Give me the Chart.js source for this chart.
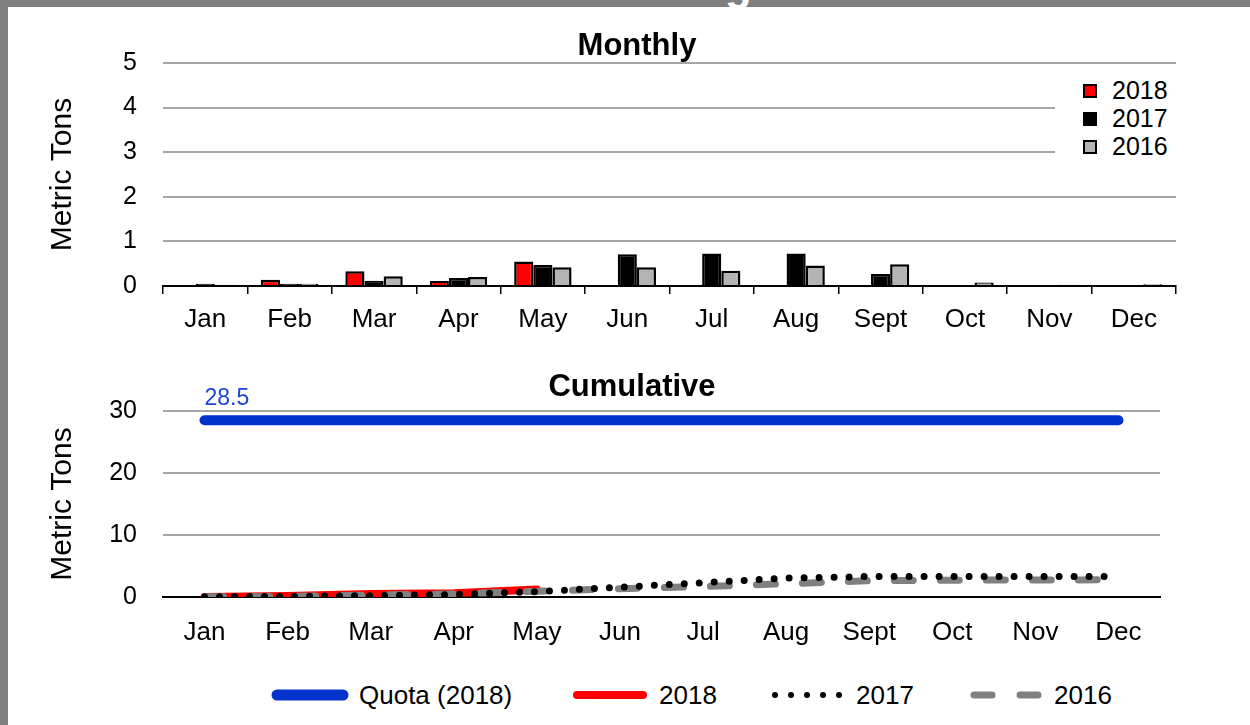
<!DOCTYPE html>
<html>
<head>
<meta charset="utf-8">
<script src="https://cdn.jsdelivr.net/npm/chart.js@4.4.1/dist/chart.umd.min.js"></script>
<style>
  body { margin: 0; width: 1250px; height: 725px; overflow: hidden; position: relative;
         background: #808080; font-family: "Liberation Sans", Arial, sans-serif; }
  #panel { position: absolute; left: 8px; top: 7px; width: 1242px; height: 718px; background: #fff; }
  #topg { position: absolute; left: 725px; top: -37px; font: bold 44px/44px "Liberation Sans", Arial, sans-serif; color: #fff; }
  #monthly { position: absolute; left: 8px; top: 7px; }
  #cumul { position: absolute; left: 8px; top: 345px; }
  #barLegend { position: absolute; left: 1055px; top: 70px; width: 140px; height: 96px; background: #fff; }
  #barLegend div { position: absolute; left: 28px; height: 28px; font-size: 25px; line-height: 28px; color: #000; }
  #barLegend span { display: inline-block; width: 10px; height: 10px; border: 2px solid #000; margin-right: 15px; vertical-align: 1px; }
  #lineLegend { position: absolute; left: 0; top: 670px; }
</style>
</head>
<body>
<div id="panel"></div>
<div id="topg">g</div>
<canvas id="monthly" width="1234" height="340"></canvas>
<canvas id="cumul" width="1234" height="315"></canvas>

<div id="barLegend">
  <div style="top:6px"><span style="background:#ff0000"></span>2018</div>
  <div style="top:34px"><span style="background:#000"></span>2017</div>
  <div style="top:62px"><span style="background:#b4b4b4"></span>2016</div>
</div>

<svg id="lineLegend" width="1250" height="50">
  <line x1="277" y1="25" x2="343" y2="25" stroke="#0033cc" stroke-width="11" stroke-linecap="round"/>
  <text x="359" y="25" font-size="26" dominant-baseline="central" font-family="Liberation Sans, Arial">Quota (2018)</text>
  <line x1="577" y1="25" x2="643" y2="25" stroke="#ff0000" stroke-width="8" stroke-linecap="round"/>
  <text x="659" y="25" font-size="26" dominant-baseline="central" font-family="Liberation Sans, Arial">2018</text>
  <line x1="775" y1="25" x2="841" y2="25" stroke="#000" stroke-width="6" stroke-linecap="round" stroke-dasharray="0 16"/>
  <text x="856" y="25" font-size="26" dominant-baseline="central" font-family="Liberation Sans, Arial">2017</text>
  <line x1="974" y1="25" x2="992" y2="25" stroke="#808080" stroke-width="7" stroke-linecap="round"/>
  <line x1="1020" y1="25" x2="1038" y2="25" stroke="#808080" stroke-width="7" stroke-linecap="round"/>
  <text x="1054" y="25" font-size="26" dominant-baseline="central" font-family="Liberation Sans, Arial">2016</text>
</svg>

<script>
// data
var months = ['Jan', 'Feb', 'Mar', 'Apr', 'May', 'Jun', 'Jul', 'Aug', 'Sept', 'Oct', 'Nov', 'Dec'];

var monthly2018 = [0.02, 0.14, 0.33, 0.11, 0.55, null, null, null, null, null, null, null];
var monthly2017 = [0.05, 0.05, 0.12, 0.18, 0.47, 0.71, 0.73, 0.73, 0.27, null, null, null];
var monthly2016 = [0.03, 0.05, 0.22, 0.20, 0.42, 0.42, 0.34, 0.46, 0.49, 0.08, 0.03, 0.04];

var quota2018 = [28.5, 28.5, 28.5, 28.5, 28.5, 28.5, 28.5, 28.5, 28.5, 28.5, 28.5, 28.5];
var cumul2018 = [0.02, 0.17, 0.50, 0.62, 1.22, null, null, null, null, null, null, null];
var cumul2017 = [0.05, 0.10, 0.22, 0.40, 0.87, 1.58, 2.31, 3.04, 3.31, 3.31, 3.31, 3.31];
var cumul2016 = [0.03, 0.08, 0.30, 0.50, 0.92, 1.34, 1.68, 2.14, 2.63, 2.71, 2.74, 2.78];

var FONT = '"Liberation Sans", Arial, sans-serif';
var gridGray = '#a6a6a6';

// draws the panel title at a fixed spot (chart.js title can't be off-centre)
var panelTitle = {
	id: 'panelTitle',
	afterDraw: function(chart, args, opts) {
		var ctx = chart.ctx;
		ctx.save();
		ctx.font = 'bold 31px ' + FONT;
		ctx.fillStyle = '#000';
		ctx.textAlign = 'center';
		ctx.textBaseline = 'middle';
		ctx.fillText(opts.text, opts.x, opts.y);
		ctx.restore();
	}
};

// value label over the first point of the quota line
var quotaLabel = {
	id: 'quotaLabel',
	afterDatasetsDraw: function(chart) {
		var pt = chart.getDatasetMeta(0).data[0];
		var ctx = chart.ctx;
		ctx.save();
		ctx.font = '23px ' + FONT;
		ctx.fillStyle = '#1f45d6';
		ctx.textAlign = 'left';
		ctx.textBaseline = 'middle';
		ctx.fillText(String(quota2018[0]), pt.x, pt.y - 22);
		ctx.restore();
	}
};

function yAxis(max, step) {
	return {
		min: 0, max: max,
		ticks: { stepSize: step, color: '#000', font: { size: 25, family: FONT }, padding: 26 },
		grid: { color: gridGray, lineWidth: 2, drawTicks: false },
		border: { display: false },
		title: { display: true, text: 'Metric Tons', color: '#000', font: { size: 30, family: FONT }, padding: 0 },
		afterFit: function(s) { s.width = 118; }
	};
}

Chart.defaults.font.family = FONT;

new Chart(document.getElementById('monthly'), {
	type: 'bar',
	data: {
		labels: months,
		datasets: [
			{ label: '2018', data: monthly2018, backgroundColor: '#ff0000' },
			{ label: '2017', data: monthly2017, backgroundColor: '#000000' },
			{ label: '2016', data: monthly2016, backgroundColor: '#b4b4b4' }
		].map(function(d) {
			d.borderColor = '#000';
			d.borderWidth = 2.5;
			d.categoryPercentage = 0.68;
			d.barPercentage = 1.0;
			return d;
		})
	},
	options: {
		responsive: false,
		animation: false,
		devicePixelRatio: 1,
		layout: { padding: { left: 37, right: 66, top: 56, bottom: 0 } },
		plugins: {
			legend: { display: false },
			tooltip: { enabled: false },
			panelTitle: { text: 'Monthly', x: 629, y: 39 }
		},
		scales: {
			x: {
				grid: { display: true, drawOnChartArea: false, drawTicks: true, tickLength: 8, color: '#000', lineWidth: 1.5 },
				border: { display: true, color: '#000', width: 2 },
				ticks: { color: '#000', font: { size: 26, family: FONT }, padding: 10, maxRotation: 0 },
				afterFit: function(s) { s.height = 61; }
			},
			y: yAxis(5, 1)
		}
	},
	plugins: [panelTitle]
});

new Chart(document.getElementById('cumul'), {
	type: 'line',
	data: {
		labels: months,
		datasets: [
			{ label: 'Quota (2018)', data: quota2018, borderColor: '#0033cc', borderWidth: 10, borderCapStyle: 'round', order: 3 },
			{ label: '2018', data: cumul2018, borderColor: '#ff0000', borderWidth: 8, borderCapStyle: 'round', order: 2 },
			{ label: '2017', data: cumul2017, borderColor: '#000000', borderWidth: 7, borderCapStyle: 'round', borderDash: [0, 15], order: 0 },
			{ label: '2016', data: cumul2016, borderColor: '#808080', borderWidth: 7, borderCapStyle: 'round', borderDash: [19, 27], order: 1 }
		].map(function(d) {
			d.pointRadius = 0;
			d.tension = 0;
			d.fill = false;
			return d;
		})
	},
	options: {
		responsive: false,
		animation: false,
		devicePixelRatio: 1,
		layout: { padding: { left: 37, right: 82, top: 66, bottom: 0 } },
		plugins: {
			legend: { display: false },
			tooltip: { enabled: false },
			panelTitle: { text: 'Cumulative', x: 624, y: 42 }
		},
		scales: {
			x: {
				offset: true,
				grid: { display: false },
				border: { display: true, color: '#000', width: 2 },
				ticks: { color: '#000', font: { size: 26, family: FONT }, padding: 12, maxRotation: 0 },
				afterFit: function(s) { s.height = 63; }
			},
			y: yAxis(30, 10)
		}
	},
	plugins: [panelTitle, quotaLabel]
});
</script>
</body>
</html>
